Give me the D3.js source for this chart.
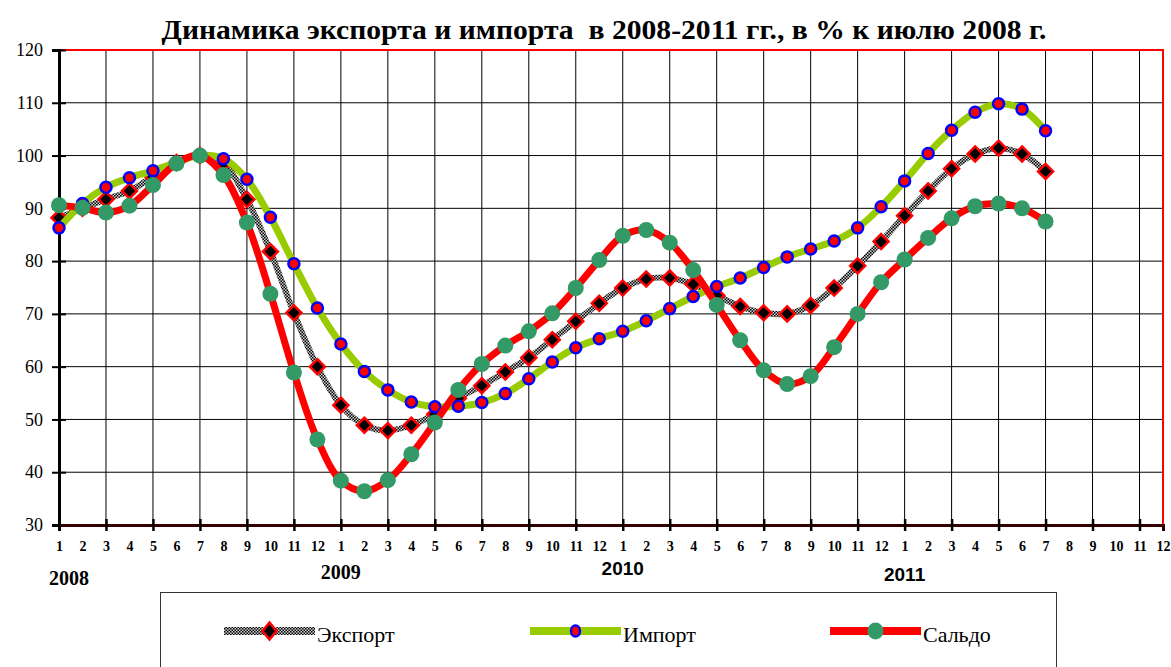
<!DOCTYPE html>
<html>
<head>
<meta charset="utf-8">
<script src="https://cdn.jsdelivr.net/npm/d3@7/dist/d3.min.js"></script>
<style>
  html, body { margin: 0; padding: 0; background: #fff; }
  svg { display: block; }
</style>
</head>
<body>
<svg id="chart" width="1171" height="667"></svg>
<script>
// ---- DATA ----
const title = "Динамика экспорта и импорта  в 2008-2011 гг., в % к июлю 2008 г.";
const monthLabels = [
  "1","2","3","4","5","6","7","8","9","10","11","12",
  "1","2","3","4","5","6","7","8","9","10","11","12",
  "1","2","3","4","5","6","7","8","9","10","11","12",
  "1","2","3","4","5","6","7","8","9","10","11","12"
];
const yearLabels = ["2008", "2009", "2010", "2011"];
const yTicks = [30, 40, 50, 60, 70, 80, 90, 100, 110, 120];
const seriesNames = ["Экспорт", "Импорт", "Сальдо"];
const exportValues = [
  88.2, 90.0, 91.7, 93.3, 96.0, 98.7, 100.0, 98.5, 91.7, 81.8, 70.2, 60.0,
  52.7, 48.9, 47.9, 48.9, 51.0, 54.0, 56.4, 59.0, 61.7, 65.1, 68.6, 72.0,
  74.9, 76.6, 76.8, 75.6, 73.5, 71.4, 70.2, 70.0, 71.6, 74.9, 79.1, 83.7,
  88.6, 93.3, 97.5, 100.3, 101.4, 100.3, 97.0
];
const importValues = [
  86.3, 90.9, 94.0, 95.8, 97.1, 98.7, 100.0, 99.4, 95.5, 88.3, 79.5, 71.1,
  64.3, 59.1, 55.6, 53.3, 52.4, 52.5, 53.2, 54.9, 57.7, 60.9, 63.6, 65.3,
  66.7, 68.7, 71.0, 73.3, 75.2, 76.8, 78.8, 80.8, 82.3, 83.8, 86.3, 90.3,
  95.2, 100.4, 104.8, 108.2, 109.8, 108.8, 104.7
];
const saldoValues = [
  90.6, 90.1, 89.2, 90.5, 94.4, 98.5, 100.0, 96.3, 87.3, 73.8, 58.9, 46.2,
  38.4, 36.4, 38.5, 43.4, 49.4, 55.6, 60.5, 64.0, 66.7, 70.1, 74.9, 80.2,
  84.8, 85.9, 83.5, 78.3, 71.7, 65.0, 59.3, 56.7, 58.2, 63.7, 70.0, 76.0,
  80.3, 84.4, 88.1, 90.4, 90.9, 90.0, 87.5
];

// ---- LAYOUT ----
const svg = d3.select("#chart");
const plotL = 59, plotR = 1163, plotT = 50, plotB = 525;
const x = d3.scaleLinear().domain([0, monthLabels.length - 1]).range([plotL, plotR]);
const y = d3.scaleLinear().domain([30, 120]).range([plotB, plotT]);
const serif = "'Liberation Serif', 'Times New Roman', serif";
const sans = "'Liberation Sans', Arial, sans-serif";

const defs = svg.append("defs");
const pat = defs.append("pattern").attr("id", "checker")
  .attr("patternUnits", "userSpaceOnUse").attr("width", 3).attr("height", 3);
pat.append("rect").attr("width", 3).attr("height", 3).attr("fill", "#cfcfcf");
pat.append("rect").attr("width", 1.5).attr("height", 1.5).attr("fill", "#000");
pat.append("rect").attr("x", 1.5).attr("y", 1.5).attr("width", 1.5).attr("height", 1.5).attr("fill", "#000");

// Title
svg.append("text")
  .attr("x", 604).attr("y", 39)
  .attr("text-anchor", "middle")
  .attr("font-family", serif).attr("font-weight", "bold").attr("font-size", 28)
  .attr("textLength", 885).attr("lengthAdjust", "spacingAndGlyphs")
  .style("white-space", "pre")
  .text(title);

// Grid
const idx = d3.range(monthLabels.length);
const gridX = idx.filter(i => i % 2 === 0 && i > 0);
svg.append("g").selectAll("line").data(gridX).join("line")
  .attr("x1", d => x(d)).attr("x2", d => x(d))
  .attr("y1", plotT).attr("y2", plotB)
  .attr("stroke", "#000").attr("stroke-width", 1);
svg.append("g").selectAll("line").data(yTicks.filter(v => v > 30 && v < 120)).join("line")
  .attr("x1", plotL).attr("x2", plotR)
  .attr("y1", d => y(d)).attr("y2", d => y(d))
  .attr("stroke", "#000").attr("stroke-width", 1);

// Red border (top & right)
svg.append("path")
  .attr("d", `M${plotL},${plotT}H${plotR}V${plotB}`)
  .attr("fill", "none").attr("stroke", "#ff0000").attr("stroke-width", 2);

// Y axis
const yAxis = svg.append("g").attr("transform", `translate(${plotL},0)`)
  .call(d3.axisLeft(y).tickValues(yTicks).tickSize(7).tickPadding(9));
yAxis.select(".domain").attr("stroke", "#000").attr("stroke-width", 3);
yAxis.selectAll(".tick line").attr("x2", 7).attr("x1", -7).attr("stroke-width", 2);
yAxis.selectAll(".tick text").attr("font-family", serif).attr("font-size", 18).attr("fill", "#000");

// X axis ticks
const xAxis = svg.append("g").attr("transform", `translate(0,${plotB})`)
  .call(d3.axisBottom(x).tickValues(idx.filter(i => i % 2 === 0)).tickSize(6).tickFormat(""));
xAxis.select(".domain").attr("stroke", "#300").attr("stroke-width", 3);
xAxis.selectAll(".tick line").attr("y1", -6).attr("y2", 6).attr("stroke-width", 2.5);

// X month labels
const xLab = svg.append("g").attr("transform", `translate(0,${plotB})`)
  .call(d3.axisBottom(x).tickValues(idx).tickSize(0).tickPadding(16).tickFormat(i => monthLabels[i]));
xLab.select(".domain").remove();
xLab.selectAll(".tick text").attr("font-family", serif).attr("font-weight", "bold")
  .attr("font-size", 14).attr("fill", "#000");

// Year labels
const yearPos = [
  {i: 0, dx: -10, y: 585, anchor: "start", font: serif},
  {i: 12, dx: 0, y: 579, anchor: "middle", font: serif},
  {i: 24, dx: 0, y: 575, anchor: "middle", font: sans},
  {i: 36, dx: 0, y: 581, anchor: "middle", font: sans}
];
svg.append("g").selectAll("text").data(yearLabels).join("text")
  .attr("x", (d, k) => x(yearPos[k].i) + yearPos[k].dx)
  .attr("y", (d, k) => yearPos[k].y)
  .attr("text-anchor", (d, k) => yearPos[k].anchor)
  .attr("font-family", (d, k) => yearPos[k].font)
  .attr("font-weight", "bold").attr("font-size", (d, k) => k < 2 ? 20 : 19)
  .text(d => d);

// Lines
const line = d3.line().x((d, i) => x(i)).y(d => y(d)).curve(d3.curveCatmullRom.alpha(0.5));

const diamond = s => `M0,${-s}L${s},0L0,${s}L${-s},0Z`;

function drawExportMarkers(g, data) {
  g.selectAll("path.m").data(data).join("path").attr("class", "m")
    .attr("transform", (d, i) => `translate(${x(i)},${y(d)})`)
    .attr("d", diamond(7.5))
    .attr("fill", "#000").attr("stroke", "#ff0000").attr("stroke-width", 2.5);
}
function drawImportMarkers(g, data) {
  g.selectAll("circle").data(data).join("circle")
    .attr("cx", (d, i) => x(i)).attr("cy", d => y(d)).attr("r", 5.5)
    .attr("fill", "#ff0000").attr("stroke", "#0000ff").attr("stroke-width", 2.5);
}
function drawSaldoMarkers(g, data) {
  g.selectAll("circle").data(data).join("circle")
    .attr("cx", (d, i) => x(i)).attr("cy", d => y(d)).attr("r", 8)
    .attr("fill", "#339966");
}

const gE = svg.append("g");
gE.append("path").datum(exportValues).attr("d", line)
  .attr("fill", "none").attr("stroke", "url(#checker)").attr("stroke-width", 6);
drawExportMarkers(gE, exportValues);

const gI = svg.append("g");
gI.append("path").datum(importValues).attr("d", line)
  .attr("fill", "none").attr("stroke", "#99cc00").attr("stroke-width", 7);
drawImportMarkers(gI, importValues);

const gS = svg.append("g");
gS.append("path").datum(saldoValues).attr("d", line)
  .attr("fill", "none").attr("stroke", "#ff0000").attr("stroke-width", 7);
drawSaldoMarkers(gS, saldoValues);

// Legend
svg.append("rect").attr("x", 160.5).attr("y", 592.5).attr("width", 896).attr("height", 90)
  .attr("fill", "#fff").attr("stroke", "#333").attr("stroke-width", 1);
const legendX = [224, 530, 830];
const legendW = 91;
const ly = 631;
seriesNames.forEach((name, k) => {
  const g = svg.append("g").attr("transform", `translate(${legendX[k]},${ly})`);
  if (k === 0) {
    g.append("rect").attr("x", 0).attr("y", -4).attr("width", legendW).attr("height", 8).attr("fill", "url(#checker)");
    g.append("path").attr("d", `M0,-8.5L7,0L0,8.5L-7,0Z`).attr("transform", `translate(${legendW / 2},0)`)
      .attr("fill", "#000").attr("stroke", "#ff0000").attr("stroke-width", 2.5);
  } else if (k === 1) {
    g.append("line").attr("x1", 0).attr("x2", legendW).attr("stroke", "#99cc00").attr("stroke-width", 8);
    g.append("ellipse").attr("cx", legendW / 2).attr("rx", 4.5).attr("ry", 5.5)
      .attr("fill", "#ff0000").attr("stroke", "#0000ff").attr("stroke-width", 2.5);
  } else {
    g.append("line").attr("x1", 0).attr("x2", legendW).attr("stroke", "#ff0000").attr("stroke-width", 8);
    g.append("ellipse").attr("cx", legendW / 2).attr("rx", 8).attr("ry", 8.5).attr("fill", "#339966");
  }
  g.append("text").attr("x", legendW + 2).attr("y", 11)
    .attr("font-family", serif).attr("font-size", 22).attr("fill", "#000").text(name);
});
</script>
</body>
</html>
